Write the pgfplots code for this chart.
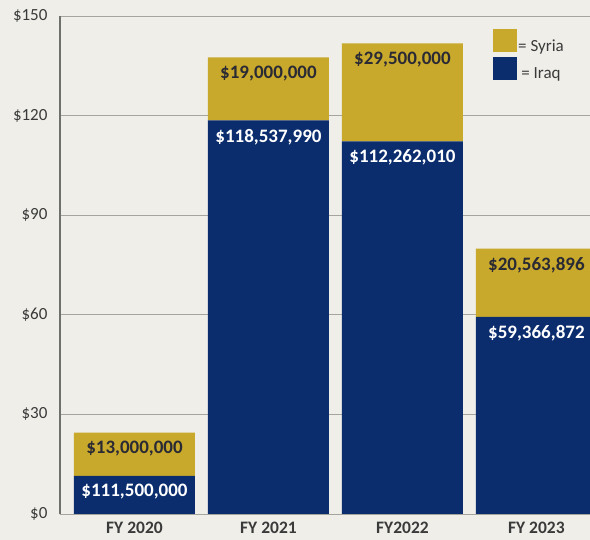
\documentclass[border=0pt]{standalone}
\usepackage{fontspec}
\setmainfont{Carlito}
\usepackage{pgfplots}
\pgfplotsset{compat=1.18}
\definecolor{bg}{HTML}{EFEEE9}
\definecolor{navy}{HTML}{0B2D6E}
\definecolor{gold}{HTML}{C9A92B}
\definecolor{gridc}{HTML}{A5A5A0}
\definecolor{axisc}{HTML}{6F6F6B}
\definecolor{txt}{HTML}{3A3A3A}
\definecolor{lbl}{HTML}{2A2A35}

\begin{document}
\begin{tikzpicture}
\fill[bg] (-60pt,-26pt) rectangle (530pt,514pt);
\begin{scope}
\clip (-60pt,-26pt) rectangle (530pt,514pt);
\begin{axis}[
    at={(0pt,0pt)}, anchor=south west,
    scale only axis,
    width=530pt, height=498pt,
    ybar stacked,
    bar width=121pt,
    xmin=-0.556, xmax=3.40,
    ymin=0, ymax=150,
    xtick={0,1,2,3},
    xticklabels={FY 2020,FY 2021,FY2022,FY 2023},
    ytick={0,30,60,90,120,150},
    yticklabels={\$0,\$30,\$60,\$90,\$120,\$150},
    ymajorgrids,
    grid style={gridc, line width=0.9pt},
    axis x line*=bottom,
    axis y line*=left,
    x axis line style={gridc, line width=0.9pt, -},
    y axis line style={axisc, line width=1.1pt, -},
    major tick length=0pt,
    yticklabel style={font=\fontsize{17}{17}\selectfont, text=txt, xshift=-9pt},
    xticklabel style={font=\bfseries\fontsize{17.5}{17.5}\selectfont, text=txt,
        inner sep=1pt, yshift=-7pt},
    nodes near coords,
    point meta=explicit symbolic,
    visualization depends on={rawy \as \rawy},
    every node near coord/.append style={font=\bfseries\fontsize{19}{19}\selectfont,
        anchor=north, yshift={\rawy*1.66pt-5pt}},
    reverse legend,
    legend style={at={(0.817,0.974)}, anchor=north west, draw=none, fill=none,
        font=\fontsize{17}{17}\selectfont, text=txt, row sep=3pt,
        inner sep=0pt, nodes={inner sep=1pt}},
    legend image code/.code={\fill[#1] (0pt,-6pt) rectangle (24pt,17pt);},
]
\addplot[fill=navy, draw=none, every node near coord/.append style={text=white}]
    coordinates {(0,11.5) [\$111,500,000] (1,118.538) [\$118,537,990]
                 (2,112.262) [\$112,262,010] (3,59.367) [\$59,366,872]};
\addplot[fill=gold, draw=none, every node near coord/.append style={text=lbl}]
    coordinates {(0,13.0) [\$13,000,000] (1,19.0) [\$19,000,000]
                 (2,29.5) [\$29,500,000] (3,20.564) [\$20,563,896]};
\legend{= Iraq, = Syria}
\end{axis}
\end{scope}
\pgfresetboundingbox
\path[use as bounding box] (-60pt,-26pt) rectangle (530pt,514pt);
\end{tikzpicture}
\end{document}
